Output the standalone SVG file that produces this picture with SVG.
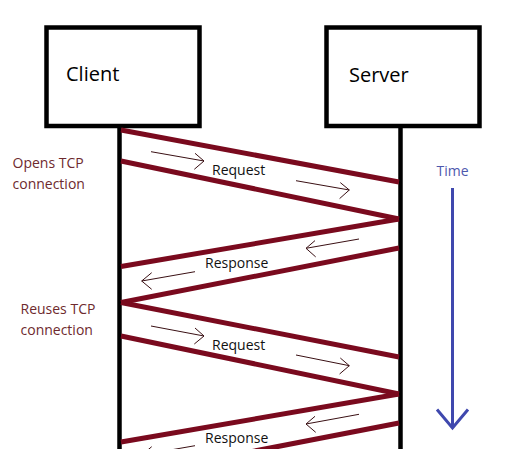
<svg xmlns="http://www.w3.org/2000/svg" width="520" height="449" viewBox="0 0 520 449">
<style>
.box{fill:#fff;stroke:#000;stroke-width:4.5}
.life{stroke:#000;stroke-width:4.5}
.msg{stroke:#7a0a1e;stroke-width:5;fill:none}
.dir{stroke:#3a1014;stroke-width:1;fill:none}
.nm{font-family:"Open Sans",sans-serif;font-size:20px;fill:#000}
.lb{font-family:"Open Sans",sans-serif;font-size:14px;fill:#111}
.note{font-family:"Open Sans",sans-serif;font-size:14px;fill:#6e2a2e}
.time{font-family:"Open Sans",sans-serif;font-size:14px;fill:#4d58ad}
</style>
<rect width="520" height="449" fill="#fff"/>
<g id="client">
<rect class="box" x="46.5" y="27.5" width="153" height="98.5"/>
<text class="nm" x="66" y="81">Client</text>
<line class="life" x1="119.5" y1="127" x2="119.5" y2="449"/>
</g>
<g id="server">
<rect class="box" x="326.5" y="27.5" width="153" height="98.5"/>
<text class="nm" x="349" y="82">Server</text>
<line class="life" x1="400.5" y1="127" x2="400.5" y2="449"/>
</g>
<g id="connectors">
<line class="msg" x1="121" y1="130" x2="399" y2="182"/>
<line class="msg" x1="121" y1="161" x2="399" y2="219"/>
<line class="msg" x1="399" y1="219" x2="121" y2="266.5"/>
<line class="msg" x1="399" y1="248" x2="121" y2="302.5"/>
<line class="msg" x1="121" y1="302.5" x2="399" y2="357"/>
<line class="msg" x1="121" y1="336" x2="399" y2="394"/>
<line class="msg" x1="399" y1="394" x2="121" y2="442"/>
<line class="msg" x1="399" y1="423" x2="121" y2="477"/>
<path class="dir" d="M151 151.7L204 161M195 153.3L204 161L194.3 169.3"/>
<path class="dir" d="M296 180.7L349.3 190M340.3 182.6L349.3 190L339.6 198.6"/>
<path class="dir" d="M359 239L306 248.3M315 240.6L306 248.3L315.7 256.9"/>
<path class="dir" d="M195 271.7L141.7 281M151.7 272.7L141.7 281L151.7 289.3"/>
<path class="dir" d="M151 326L204 336M195 328L204 336L194.3 344"/>
<path class="dir" d="M296 355L349.3 365.7M340.3 358L349.3 365.7L339.6 374"/>
<path class="dir" d="M359 414.3L306 424M315 416.3L306 424L315.7 432.3"/>
<path class="dir" d="M195 445.7L141.7 455M151.7 446.7L141.7 455"/>
</g>
<g id="labels">
<text class="lb" x="212" y="175">Request</text>
<text class="lb" x="205" y="268">Response</text>
<text class="lb" x="212" y="349.5">Request</text>
<text class="lb" x="205" y="442.5">Response</text>
<text class="note" x="12.5" y="167.5">Opens TCP</text>
<text class="note" x="12.5" y="188.5">connection</text>
<text class="note" x="20.5" y="314">Reuses TCP</text>
<text class="note" x="20.5" y="334.5">connection</text>
</g>
<g id="time">
<text class="time" x="436.5" y="176">Time</text>
<line x1="452.5" y1="188" x2="452.5" y2="428" stroke="#3f48ae" stroke-width="3"/>
<path d="M437 409.5L452.5 428L468 409.5" fill="none" stroke="#3f48ae" stroke-width="3"/>
</g>
</svg>
